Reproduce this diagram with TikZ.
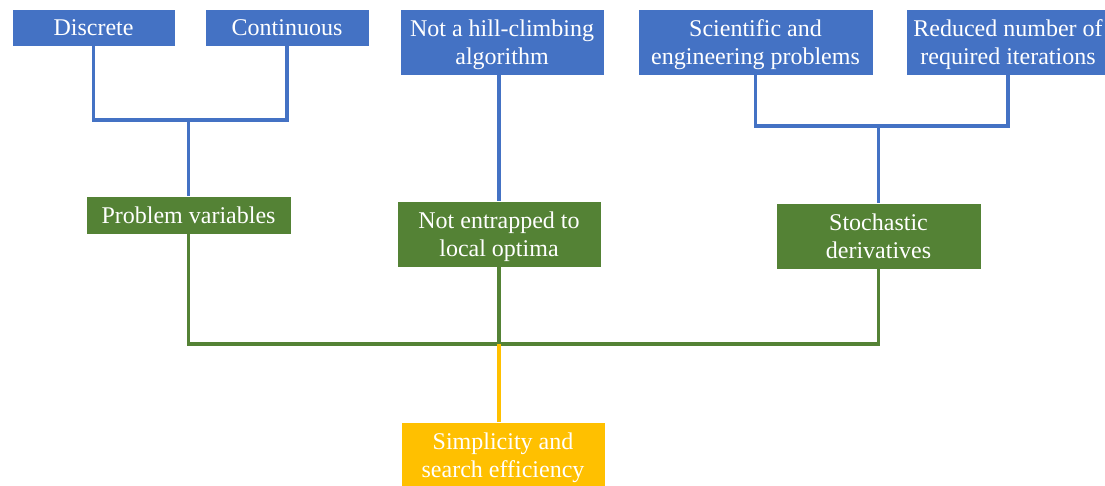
\documentclass[tikz,border=0pt]{standalone}
\usepackage{fontspec}
\setmainfont{Liberation Serif}
\definecolor{boxblue}{HTML}{4472C4}
\definecolor{boxgreen}{HTML}{548235}
\definecolor{boxgold}{HTML}{FFC000}
% fixed line heights so two-line labels sit alike in every box
\newcommand{\cardtop}{\rule{0pt}{22pt}}
\newcommand{\cardbot}{\rule[-6pt]{0pt}{6pt}}
\begin{document}
\begin{tikzpicture}[x=1pt,y=-1pt,
  card/.style={draw=white, line width=0.6pt, text=white, align=center,
    inner sep=0pt, font=\rmfamily\fontsize{24}{28}\selectfont},
  bluecard/.style={card, fill=boxblue},
  greencard/.style={card, fill=boxgreen},
  goldcard/.style={card, fill=boxgold},
  bluelink/.style={draw=boxblue, line width=3.2pt},
  greenlink/.style={draw=boxgreen, line width=3.2pt},
  goldlink/.style={draw=boxgold, line width=3.2pt}]
\useasboundingbox (0,0) rectangle (1105,485);

% top row: blue attributes
\node[bluecard, minimum width=163, minimum height=37] (disc) at (93.5,27.5) {Discrete};
\node[bluecard, minimum width=164, minimum height=37] (cont) at (287,27.5) {Continuous};
\node[bluecard, minimum width=204, minimum height=66] (hill) at (502,42) {\cardtop Not a hill-climbing\\algorithm\cardbot};
\node[bluecard, minimum width=235, minimum height=66] (sci) at (755.5,42) {\cardtop Scientific and\\engineering problems\cardbot};
\node[bluecard, minimum width=204, minimum height=66] (iter) at (1008,42) {\cardtop Reduced number of\\required iterations\cardbot};

% middle row: green properties
\node[greencard, minimum width=205, minimum height=38] (pv) at (188.5,215) {Problem variables};
\node[greencard, minimum width=204, minimum height=66] (ne) at (499,234) {\cardtop Not entrapped to\\local optima\cardbot};
\node[greencard, minimum width=205, minimum height=66] (sd) at (878.5,236) {\cardtop Stochastic\\derivatives\cardbot};

% bottom: outcome
\node[goldcard, minimum width=204, minimum height=66] (se) at (503,455) {\cardtop Simplicity and\\search efficiency\cardbot};

% junction points
\coordinate (j1) at (188.5,120);
\coordinate (j2) at (878.5,126);
\coordinate (j3) at (499,344);

% blue connectors
\draw[bluelink] (disc.south) |- (j1) -| (cont.south);
\draw[bluelink] (j1) -- (pv.north);
\draw[bluelink] (hill.south -| ne.north) -- (ne.north);
\draw[bluelink] (sci.south) |- (j2) -| (iter.south);
\draw[bluelink] (j2) -- (sd.north);

% green connectors
\draw[greenlink] (pv.south) |- (j3) -| (sd.south);
\draw[greenlink] (ne.south) -- (j3);

% gold connector
\draw[goldlink] (j3) -- (se.north -| j3);
\end{tikzpicture}
\end{document}
